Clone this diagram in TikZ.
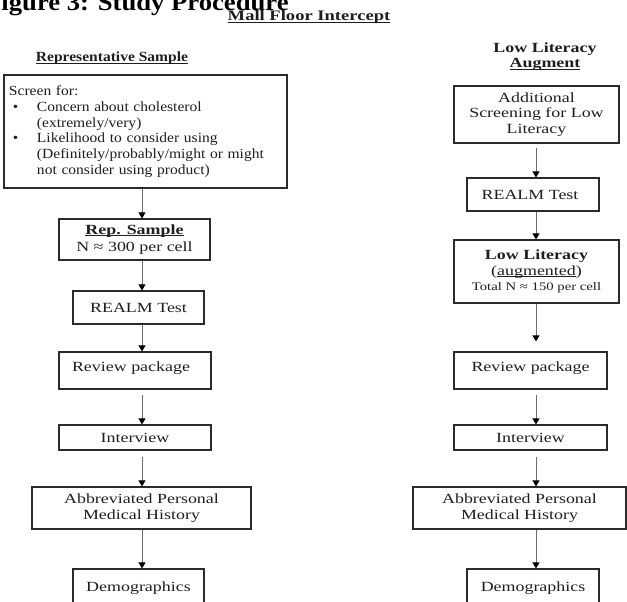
\documentclass[tikz,border=0pt]{standalone}
\usepackage{fontspec}
\setmainfont{Liberation Serif}[FakeStretch=1.28]
\newfontfamily\slimserif{Liberation Serif}[FakeStretch=1.11]
\usetikzlibrary{arrows.meta}

\definecolor{ink}{HTML}{1E1E1E}
\definecolor{frame}{HTML}{2B2B2B}
\definecolor{shaft}{HTML}{6E6E6E}

% underline drawn close under the baseline
\newcommand\uln[1]{\setbox0\hbox{#1}\rlap{\rule[-2pt]{\wd0}{0.9pt}}\box0}

\tikzset{
  box/.style={draw=frame, line width=1.1pt, inner sep=0pt, align=center,
    text=ink, font=\fontsize{14pt}{15.7pt}\selectfont},
  head/.style={inner sep=0pt, align=center, text=ink,
    font=\bfseries\fontsize{14pt}{15pt}\selectfont},
  arr/.style={draw=shaft, line width=1pt,
    -{Triangle[length=6pt,width=7pt,color=black]}},
}

\begin{document}
\begin{tikzpicture}[x=1pt,y=-1pt]
\useasboundingbox (0,0) rectangle (627,602);
\clip (0,0) rectangle (627,602);

% page heading
\node[anchor=base west, inner sep=0pt, text=black,
  font=\slimserif\bfseries\fontsize{24pt}{28pt}\selectfont] (title) at (-15,11)
  {Figure 3: Study Procedure};
\node[head, anchor=base, font=\bfseries\fontsize{14.5pt}{17pt}\selectfont]
  (mall) at (309,20.5) {\uln{Mall Floor Intercept}};

% column headings
\node[head, anchor=base, font=\slimserif\bfseries\fontsize{14pt}{15pt}\selectfont]
  (repHead) at (112,62) {\uln{Representative Sample}};
\node[head, anchor=north] (lowHead) at (545,42.7) {Low Literacy\\\uln{Augment}};

% column x positions of the connectors
\coordinate (lx) at (142,0);
\coordinate (rx) at (536,0);

% left column: representative sample
\node[box, align=left, text width=273pt, minimum width=283pt, minimum height=113pt,
  font=\slimserif\fontsize{14pt}{15.7pt}\selectfont]
  (scr) at (145.5,131.5)
  {Screen for:\\
   \hspace*{4pt}\makebox[24pt][l]{\textbullet}Concern about cholesterol\\
   \hspace*{28pt}(extremely/very)\\
   \hspace*{4pt}\makebox[24pt][l]{\textbullet}Likelihood to consider using\\
   \hspace*{28pt}(Definitely/probably/might or might\\
   \hspace*{28pt}not consider using product)};
\node[box, minimum width=151pt, minimum height=41pt, font=\fontsize{14pt}{17pt}\selectfont]
  (rep) at (134.5,239.5) {\textbf{\uln{Rep. Sample}}\\N ≈ 300 per cell};
\node[box, minimum width=131pt, minimum height=33pt] (realmL) at (138.5,307.5) {REALM Test};
\node[box, minimum width=152pt, minimum height=37pt, text height=10pt, text depth=9pt]
  (revL) at (135,370.5) {Review package\hspace*{8pt}};
\node[box, minimum width=152pt, minimum height=25pt] (intL) at (135,437.5) {Interview};
\node[box, minimum width=219pt, minimum height=42pt, font=\fontsize{14pt}{16.5pt}\selectfont]
  (abbL) at (141.5,508) {Abbreviated Personal\\Medical History};
\node[box, minimum width=131pt, minimum height=39pt] (demL) at (138.5,588.5) {Demographics};

% right column: low literacy augment
\node[box, minimum width=165pt, minimum height=57pt] (add) at (536.5,114.5)
  {Additional\\Screening for Low\\Literacy};
\node[box, minimum width=132pt, minimum height=33pt] (realmR) at (533,194.5) {REALM Test\hspace*{6pt}};
\node[box, minimum width=165pt, minimum height=63pt] (lowR) at (536.5,271.5)
  {\textbf{Low Literacy}\\(\uln{augmented})\\{\fontsize{11.5pt}{13pt}\selectfont Total N ≈ 150 per cell}};
\node[box, minimum width=153pt, minimum height=37pt, text height=10pt, text depth=9pt]
  (revR) at (530.5,370.5) {Review package};
\node[box, minimum width=153pt, minimum height=25pt] (intR) at (530.5,437.5) {Interview};
\node[box, minimum width=213pt, minimum height=42pt, font=\fontsize{14pt}{16.5pt}\selectfont]
  (abbR) at (519.5,508) {Abbreviated Personal\\Medical History};
\node[box, minimum width=132pt, minimum height=39pt] (demR) at (533,588.5) {Demographics};

% connectors, left column
\draw[arr] (scr.south -| lx) -- (rep.north -| lx);
\draw[arr] (rep.south -| lx) -- (realmL.north -| lx);
\draw[arr] (realmL.south -| lx) -- (revL.north -| lx);
\draw[arr, shorten <=5pt] (revL.south -| lx) -- (intL.north -| lx);
\draw[arr, shorten <=6pt] (intL.south -| lx) -- (abbL.north -| lx);
\draw[arr] (abbL.south -| lx) -- (demL.north -| lx);

% connectors, right column
\draw[arr, shorten <=4pt] (add.south -| rx) -- (realmR.north -| rx);
\draw[arr] (realmR.south -| rx) -- (lowR.north -| rx);
\draw[arr, shorten >=10pt] (lowR.south -| rx) -- (revR.north -| rx);
\draw[arr, shorten <=5pt] (revR.south -| rx) -- (intR.north -| rx);
\draw[arr, shorten <=6pt] (intR.south -| rx) -- (abbR.north -| rx);
\draw[arr] (abbR.south -| rx) -- (demR.north -| rx);
\end{tikzpicture}
\end{document}
